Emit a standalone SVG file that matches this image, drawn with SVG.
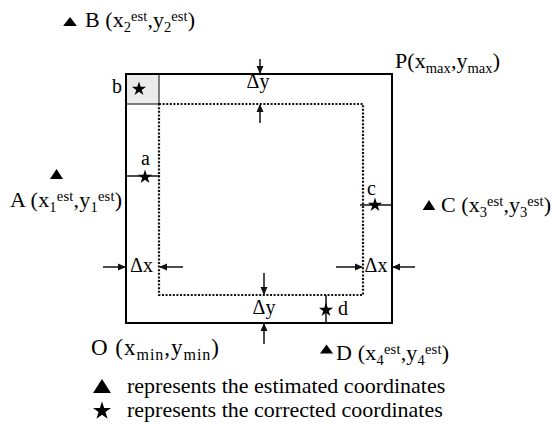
<svg xmlns="http://www.w3.org/2000/svg" width="552" height="424" viewBox="0 0 552 424">
<style>
text{font-family:"Liberation Serif","Times New Roman",serif;fill:#000}
.lbl{font-size:22px}
.s{font-size:14.5px}
.d{font-size:20px}
.frame{fill:none;stroke:#000;stroke-width:2}
.dot{fill:none;stroke:#111;stroke-width:2.2;stroke-dasharray:2 1.6}
.ln{stroke:#111;stroke-width:1.5;fill:none}
.arr{stroke:#111;stroke-width:1.5;fill:none;marker-end:url(#ah)}
</style>
<defs>
<marker id="ah" markerWidth="8" markerHeight="8" refX="7" refY="4" orient="auto" markerUnits="userSpaceOnUse">
<path d="M0,0.5 L8,4 L0,7.5 Z" fill="#111"/>
</marker>
<path id="star" d="M0,-1 L0.225,-0.309 L0.951,-0.309 L0.363,0.118 L0.588,0.809 L0,0.382 L-0.588,0.809 L-0.363,0.118 L-0.951,-0.309 L-0.225,-0.309 Z" fill="#000"/>
<path id="tri" d="M0,-1 L1.15,1 L-1.15,1 Z" fill="#000"/>
</defs>

<g id="region">
<rect x="126" y="74" width="33" height="30" fill="#ebebeb" stroke="#555" stroke-width="1.5"/>
<rect class="frame" x="126" y="74" width="266" height="249"/>
<rect class="dot" x="159" y="104" width="204" height="191"/>
</g>

<g id="connectors">
<line class="arr" x1="260" y1="59" x2="260" y2="73"/>
<line class="arr" x1="260" y1="123" x2="260" y2="105"/>
<line class="arr" x1="264" y1="273" x2="264" y2="294"/>
<line class="arr" x1="264" y1="344" x2="264" y2="324"/>
<line class="arr" x1="103" y1="267" x2="125" y2="267"/>
<line class="arr" x1="183" y1="267" x2="160" y2="267"/>
<line class="arr" x1="336" y1="267" x2="362" y2="267"/>
<line class="arr" x1="415" y1="267" x2="393" y2="267"/>
<line class="ln" x1="126" y1="176" x2="160" y2="176"/>
<line class="ln" x1="360" y1="205" x2="392" y2="205"/>
<line class="ln" x1="326" y1="295" x2="326" y2="323"/>
</g>

<g id="dx-dy-labels">
<text class="d" x="258" y="88" text-anchor="middle">Δy</text>
<text class="d" x="264" y="314" text-anchor="middle">Δy</text>
<text class="d" x="141.5" y="272" text-anchor="middle">Δx</text>
<text class="d" x="376" y="272" text-anchor="middle">Δx</text>
</g>

<g id="node-b">
<use href="#star" transform="translate(139,89) scale(7.5)"/>
<text class="d" x="112" y="93">b</text>
</g>
<g id="node-a">
<use href="#star" transform="translate(145,177) scale(7.5)"/>
<text class="d" x="141" y="165">a</text>
</g>
<g id="node-c">
<use href="#star" transform="translate(375,205) scale(7.5)"/>
<text class="d" x="367" y="195">c</text>
</g>
<g id="node-d">
<use href="#star" transform="translate(326,310) scale(7.5)"/>
<text class="d" x="338" y="315">d</text>
</g>

<g id="node-B">
<use href="#tri" transform="translate(70,21.5) scale(6,4.5)"/>
<text class="lbl" x="85" y="27" textLength="110" lengthAdjust="spacing">B (x<tspan class="s" dy="5">2</tspan><tspan class="s" dy="-11">est</tspan><tspan dy="6">,y</tspan><tspan class="s" dy="5">2</tspan><tspan class="s" dy="-11">est</tspan><tspan dy="6">)</tspan></text>
</g>
<g id="node-A">
<use href="#tri" transform="translate(56.5,174) scale(5.7,5)"/>
<text class="lbl" x="10" y="207" textLength="112" lengthAdjust="spacing">A (x<tspan class="s" dy="5">1</tspan><tspan class="s" dy="-11">est</tspan><tspan dy="6">,y</tspan><tspan class="s" dy="5">1</tspan><tspan class="s" dy="-11">est</tspan><tspan dy="6">)</tspan></text>
</g>
<g id="node-C">
<use href="#tri" transform="translate(429,205) scale(5.5,5)"/>
<text class="lbl" x="441" y="212" textLength="110" lengthAdjust="spacing">C (x<tspan class="s" dy="5">3</tspan><tspan class="s" dy="-11">est</tspan><tspan dy="6">,y</tspan><tspan class="s" dy="5">3</tspan><tspan class="s" dy="-11">est</tspan><tspan dy="6">)</tspan></text>
</g>
<g id="node-D">
<use href="#tri" transform="translate(326.5,349) scale(5.7,4.5)"/>
<text class="lbl" x="336" y="360" textLength="113" lengthAdjust="spacing">D (x<tspan class="s" dy="5">4</tspan><tspan class="s" dy="-11">est</tspan><tspan dy="6">,y</tspan><tspan class="s" dy="5">4</tspan><tspan class="s" dy="-11">est</tspan><tspan dy="6">)</tspan></text>
</g>
<g id="node-P">
<text class="lbl" x="395" y="68" textLength="105" lengthAdjust="spacing">P(x<tspan class="s" dy="5">max</tspan><tspan dy="-5">,y</tspan><tspan class="s" dy="5">max</tspan><tspan dy="-5">)</tspan></text>
</g>
<g id="node-O">
<text class="lbl" x="91" y="355" textLength="128" lengthAdjust="spacing" style="font-size:23px">O (x<tspan class="s" dy="5" style="font-size:16px">min</tspan><tspan dy="-5">,y</tspan><tspan class="s" dy="5" style="font-size:16px">min</tspan><tspan dy="-5">)</tspan></text>
</g>

<g id="legend">
<use href="#tri" transform="translate(102,386) scale(7.8,7)"/>
<text class="lbl" x="127" y="393">represents the estimated coordinates</text>
<use href="#star" transform="translate(102,411) scale(9.5)"/>
<text class="lbl" x="127" y="417">represents the corrected coordinates</text>
</g>
</svg>
